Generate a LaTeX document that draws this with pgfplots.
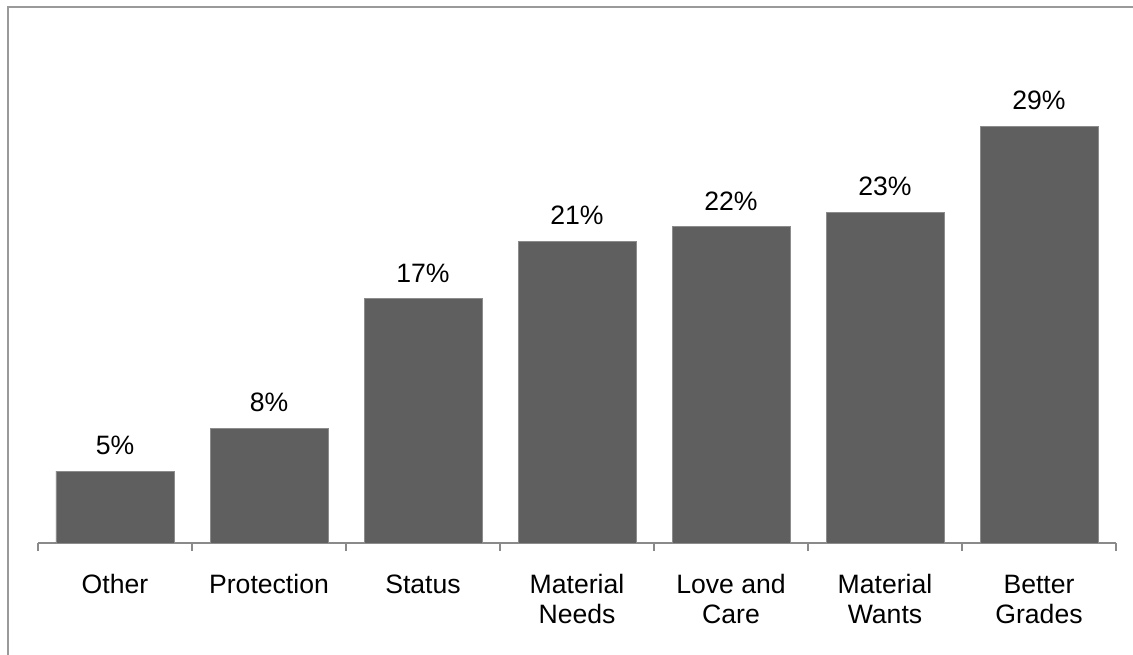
\documentclass[border=0pt]{standalone}
\usepackage{pgfplots}
\pgfplotsset{compat=1.18}
\usepackage{fontspec}
\setmainfont{Liberation Sans}

\definecolor{barfill}{HTML}{5F5F5F}
\definecolor{baredge}{HTML}{8C8C8C}
\definecolor{axisgray}{HTML}{8A8A8A}
\definecolor{framegray}{HTML}{9A9A9A}

\begin{document}
\begin{tikzpicture}
  % page area and the chart frame (left and top edges)
  \path[use as bounding box] (0pt,0pt) rectangle (566.5pt,327pt);
  \draw[framegray, line width=0.6pt] (4pt,-1pt) -- (4pt,323.5pt) -- (567.5pt,323.5pt);

  \begin{axis}[
    at={(19pt,55.5pt)}, anchor=south west,
    scale only axis,
    width=539pt, height=253pt,
    xmin=0, xmax=7,
    ymin=0, ymax=35.2,
    axis y line=none,
    axis x line*=bottom,
    x axis line style={axisgray, line width=0.9pt, -},
    xtick={0.5,1.5,...,6.5},
    xticklabels={\strut Other, \strut Protection, \strut Status,
      {\strut Material\\Needs}, {\strut Love and\\Care},
      {\strut Material\\Wants}, {\strut Better\\Grades}},
    major tick length=0pt,
    minor xtick={0,1,...,7},
    minor tick length=4pt,
    tick align=outside,
    minor tick style={axisgray, line width=0.9pt},
    xticklabel style={align=center, anchor=north, inner sep=0pt, yshift=-14.2pt,
      font=\fontsize{13.3}{15.35}\selectfont},
    /pgf/number format/assume math mode=true,
    ybar, bar width=59pt,
    nodes near coords={\pgfmathprintnumber{\pgfplotspointmeta}\%},
    every node near coord/.append style={anchor=base, yshift=8.2pt, black,
      font=\fontsize{13.3}{15.35}\selectfont},
    clip=false,
  ]
    \addplot[fill=barfill, draw=baredge, line width=0.4pt]
      coordinates {(0.5,5) (1.5,8) (2.5,17) (3.5,21) (4.5,22) (5.5,23) (6.5,29)};
  \end{axis}
\end{tikzpicture}
\end{document}
